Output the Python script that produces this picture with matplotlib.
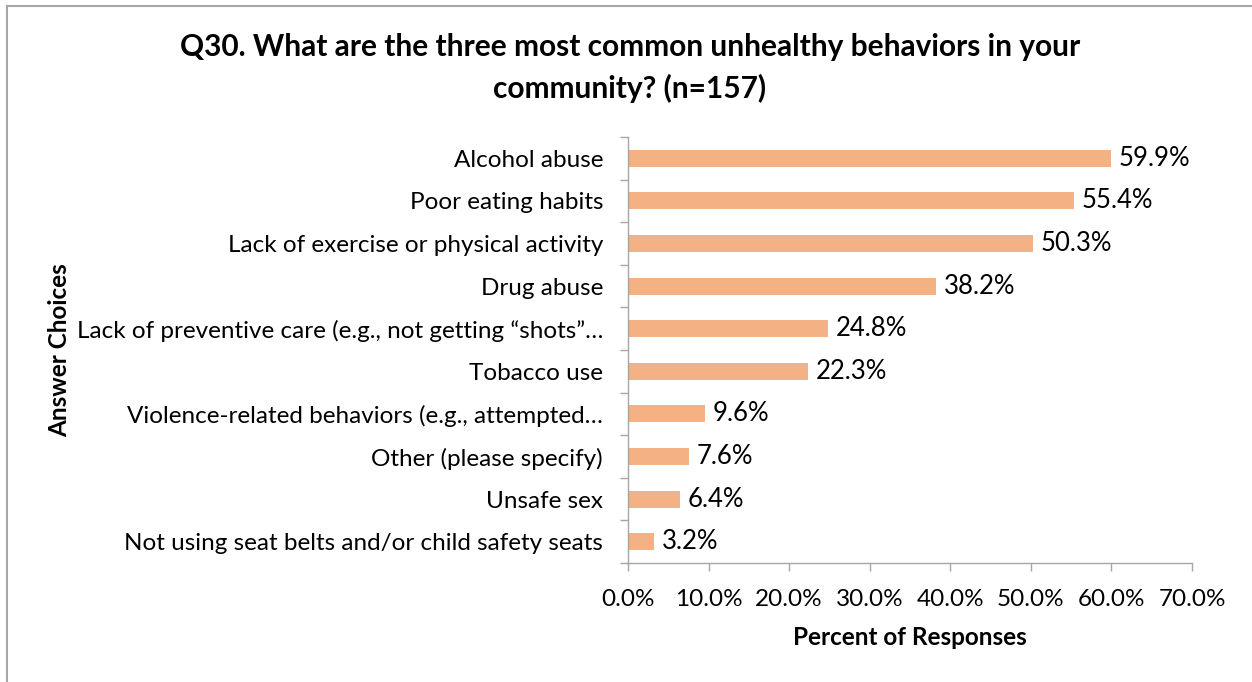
import matplotlib
matplotlib.use('Agg')
import matplotlib.pyplot as plt
from matplotlib.lines import Line2D
from matplotlib.ticker import FixedLocator, FuncFormatter

# ── Data ───────────────────────────────────────────────────────────────────────
categories = [
    'Alcohol abuse',
    'Poor eating habits',
    'Lack of exercise or physical activity',
    'Drug abuse',
    'Lack of preventive care (e.g., not getting \u201cshots\u201d\u2026',
    'Tobacco use',
    'Violence-related behaviors (e.g., attempted\u2026',
    'Other (please specify)',
    'Unsafe sex',
    'Not using seat belts and/or child safety seats',
]
percents = [59.9, 55.4, 50.3, 38.2, 24.8, 22.3, 9.6, 7.6, 6.4, 3.2]
x_ticks = [0, 10, 20, 30, 40, 50, 60, 70]

title = 'Q30. What are the three most common unhealthy behaviors in your\ncommunity? (n=157)'

plt.rcParams['font.family'] = ['Lato', 'DejaVu Sans']
FS = 17.5

W, H = 1252, 682
fig = plt.figure(figsize=(W / 100, H / 100), dpi=100)
fig.patch.set_facecolor('white')

ax = fig.add_axes([628 / W, 1 - 563 / H, 564 / W, 426 / H])

ypos = list(range(len(categories)))
ax.barh(ypos, percents, height=0.4, color='#F4B183')

for y, v in zip(ypos, percents):
    ax.annotate(f'{v:.1f}%', (v, y), xytext=(5.5, 0), textcoords='offset points',
                va='center', ha='left', fontsize=18.5, color='black')

ax.set_xlim(0, 70)
ax.set_ylim(len(categories) - 0.5, -0.5)

ax.set_yticks(ypos)
ax.set_yticklabels(categories, fontsize=FS)
ax.yaxis.set_minor_locator(FixedLocator([i - 0.5 for i in range(len(categories) + 1)]))
ax.tick_params(axis='y', which='major', length=0, pad=18)
ax.tick_params(axis='y', which='minor', length=6, color='#A6A6A6', width=1)

ax.xaxis.set_major_locator(FixedLocator(x_ticks))
ax.xaxis.set_major_formatter(FuncFormatter(lambda v, p: f'{v:.1f}%'))
ax.tick_params(axis='x', which='major', length=6, color='#A6A6A6', width=1,
               labelsize=FS, pad=13)

for side in ('top', 'right'):
    ax.spines[side].set_visible(False)
for side in ('left', 'bottom'):
    ax.spines[side].set_color('#A6A6A6')
    ax.spines[side].set_linewidth(1)

ax.set_xlabel('Percent of Responses', fontsize=FS, fontweight='bold', labelpad=11)
fig.text(60 / W, 1 - 350 / H, 'Answer Choices', rotation=90, ha='center', va='center',
         fontsize=FS, fontweight='bold')

fig.text(630 / W, 1 - 68 / H, title, ha='center', va='center', fontsize=21.5,
         fontweight='bold', linespacing=1.5)

# chart area border (left and top edges visible)
fig.add_artist(Line2D([7 / W, 7 / W], [0, 1 - 6 / H], color='#A6A6A6', lw=1.5,
                      transform=fig.transFigure))
fig.add_artist(Line2D([7 / W, 1], [1 - 6 / H, 1 - 6 / H], color='#A6A6A6', lw=1.5,
                      transform=fig.transFigure))

fig.savefig('out.png', dpi=100, facecolor='white')
